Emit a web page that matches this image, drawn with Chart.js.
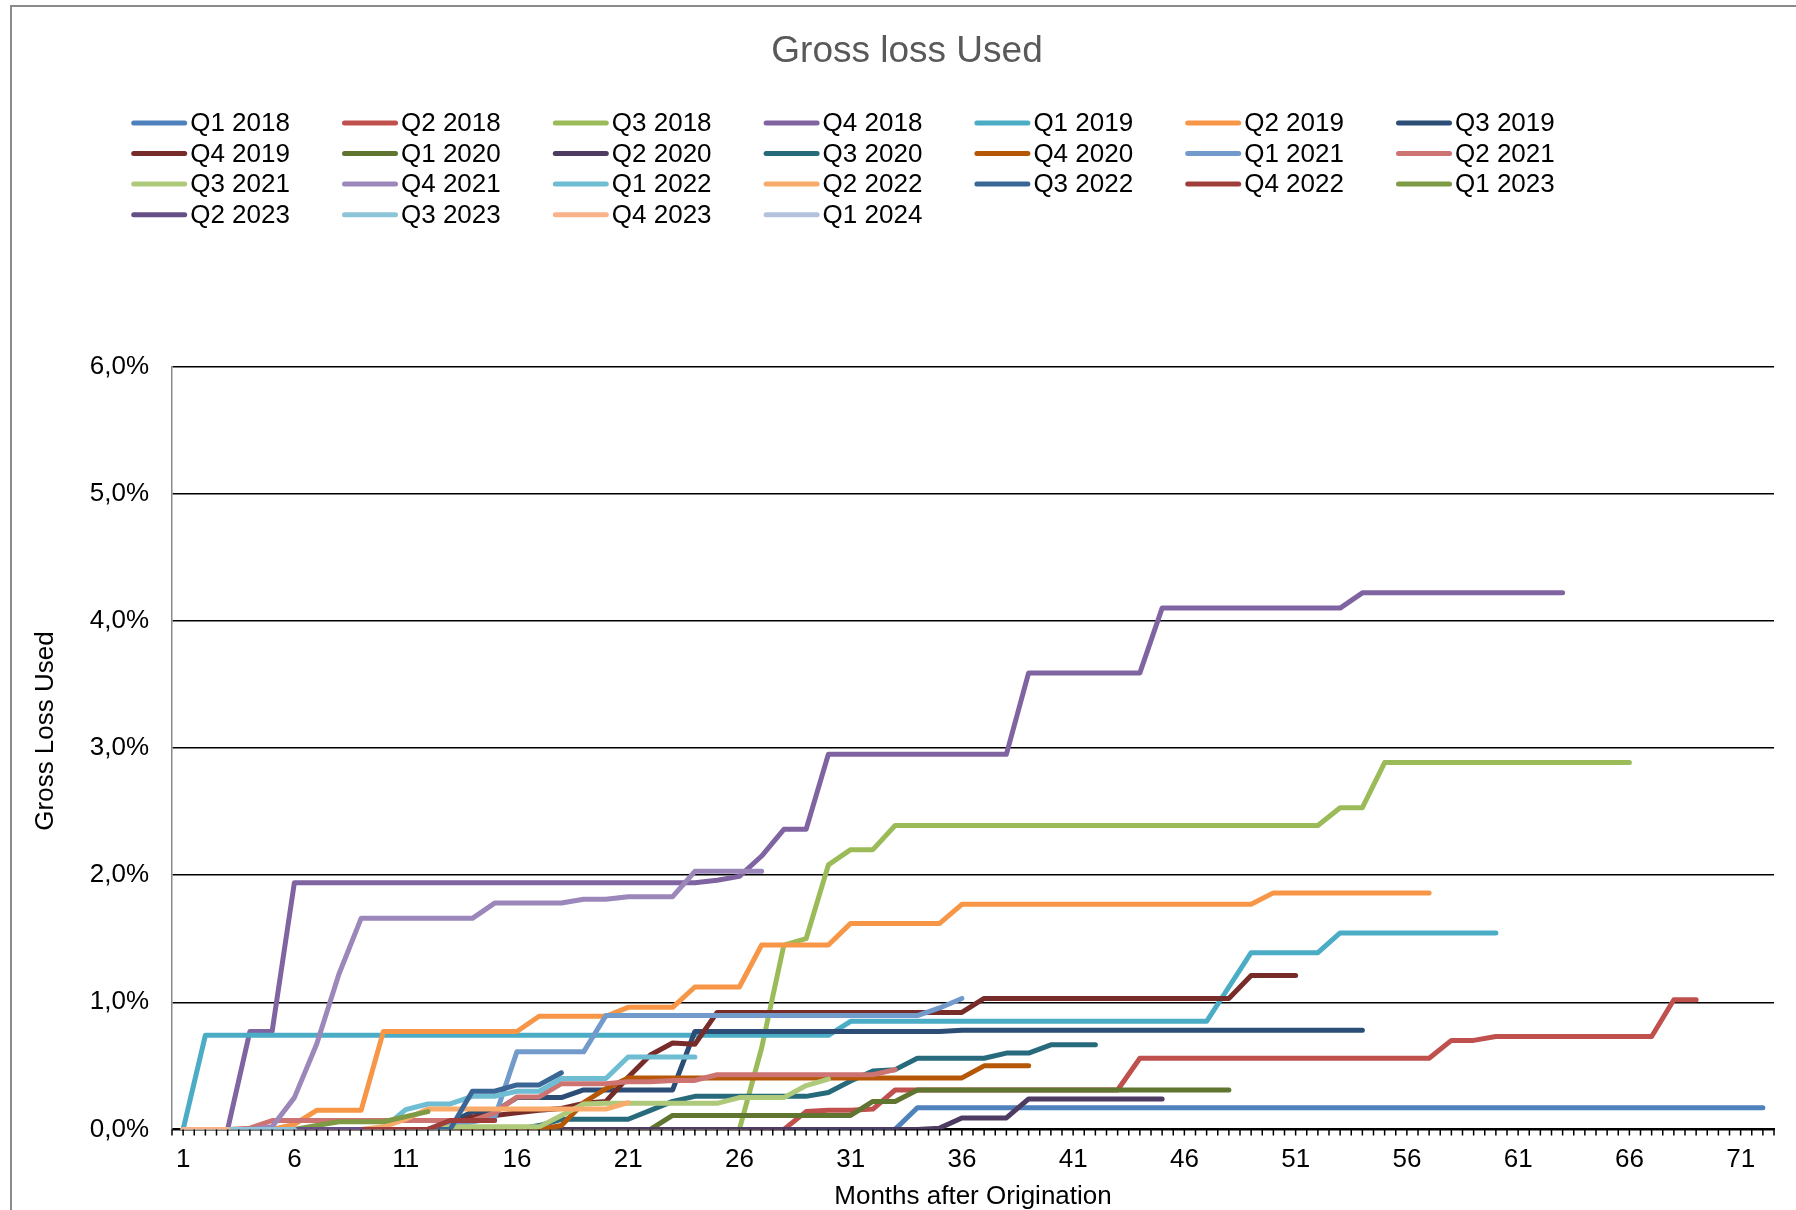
<!DOCTYPE html>
<html>
<head>
<meta charset="utf-8">
<title>Gross loss Used</title>
<script src="https://cdn.jsdelivr.net/npm/chart.js@4/dist/chart.umd.min.js"></script>
<style>
  html, body { margin: 0; padding: 0; background: #ffffff; overflow: hidden; }
  #wrap { width: 1796px; height: 1210px; }
</style>
</head>
<body>
<div id="wrap"><canvas id="c" width="1796" height="1210"></canvas></div>
<script>
// Months after origination (category axis)
const months = ['1','2','3','4','5','6','7','8','9','10','11','12','13','14','15','16','17','18','19','20',
  '21','22','23','24','25','26','27','28','29','30','31','32','33','34','35','36','37','38','39','40',
  '41','42','43','44','45','46','47','48','49','50','51','52','53','54','55','56','57','58','59','60',
  '61','62','63','64','65','66','67','68','69','70','71','72'];

// Cumulative gross loss (%) per origination quarter, by month after origination
const q1_2018 = [0,0,0,0,0,0,0,0,0,0, 0,0,0,0,0,0,0,0,0,0, 0,0,0,0,0,0,0,0,0,0,
  0,0,0,0.17,0.17,0.17,0.17,0.17,0.17,0.17, 0.17,0.17,0.17,0.17,0.17,0.17,0.17,0.17,0.17,0.17,
  0.17,0.17,0.17,0.17,0.17,0.17,0.17,0.17,0.17,0.17, 0.17,0.17,0.17,0.17,0.17,0.17,0.17,0.17,0.17,0.17, 0.17,0.17];
const q2_2018 = [0,0,0,0,0,0,0,0,0,0, 0,0,0,0,0,0,0,0,0,0, 0,0,0,0,0,0,0,0,0.14,0.15,
  0.15,0.16,0.31,0.31,0.31,0.31,0.31,0.31,0.31,0.31, 0.31,0.31,0.31,0.56,0.56,0.56,0.56,0.56,0.56,0.56,
  0.56,0.56,0.56,0.56,0.56,0.56,0.56,0.70,0.70,0.73, 0.73,0.73,0.73,0.73,0.73,0.73,0.73,1.02,1.02];
const q3_2018 = [0,0,0,0,0,0,0,0,0,0, 0,0,0,0,0,0,0,0,0,0, 0,0,0,0,0,0,0.64,1.45,1.50,2.08,
  2.20,2.20,2.39,2.39,2.39,2.39,2.39,2.39,2.39,2.39, 2.39,2.39,2.39,2.39,2.39,2.39,2.39,2.39,2.39,2.39,
  2.39,2.39,2.53,2.53,2.885,2.885,2.885,2.885,2.885,2.885, 2.885,2.885,2.885,2.885,2.885,2.885];
const q4_2018 = [0,0,0,0.77,0.77,1.94,1.94,1.94,1.94,1.94, 1.94,1.94,1.94,1.94,1.94,1.94,1.94,1.94,1.94,1.94,
  1.94,1.94,1.94,1.94,1.96,1.99,2.15,2.36,2.36,2.95, 2.95,2.95,2.95,2.95,2.95,2.95,2.95,2.95,3.59,3.59,
  3.59,3.59,3.59,3.59,4.10,4.10,4.10,4.10,4.10,4.10, 4.10,4.10,4.10,4.22,4.22,4.22,4.22,4.22,4.22,4.22, 4.22,4.22,4.22];
const q1_2019 = [0,0.74,0.74,0.74,0.74,0.74,0.74,0.74,0.74,0.74, 0.74,0.74,0.74,0.74,0.74,0.74,0.74,0.74,0.74,0.74,
  0.74,0.74,0.74,0.74,0.74,0.74,0.74,0.74,0.74,0.74, 0.85,0.85,0.85,0.85,0.85,0.85,0.85,0.85,0.85,0.85,
  0.85,0.85,0.85,0.85,0.85,0.85,0.85,1.12,1.39,1.39, 1.39,1.39,1.545,1.545,1.545,1.545,1.545,1.545,1.545,1.545];
const q2_2019 = [0,0,0,0,0,0.04,0.15,0.15,0.15,0.77, 0.77,0.77,0.77,0.77,0.77,0.77,0.89,0.89,0.89,0.89,
  0.96,0.96,0.96,1.12,1.12,1.12,1.45,1.45,1.45,1.45, 1.62,1.62,1.62,1.62,1.62,1.77,1.77,1.77,1.77,1.77,
  1.77,1.77,1.77,1.77,1.77,1.77,1.77,1.77,1.77,1.86, 1.86,1.86,1.86,1.86,1.86,1.86,1.86];
const q3_2019 = [0,0,0,0,0,0,0,0,0,0, 0,0,0.05,0.14,0.14,0.25,0.25,0.25,0.31,0.31,
  0.31,0.31,0.31,0.77,0.77,0.77,0.77,0.77,0.77,0.77, 0.77,0.77,0.77,0.77,0.77,0.78,0.78,0.78,0.78,0.78,
  0.78,0.78,0.78,0.78,0.78,0.78,0.78,0.78,0.78,0.78, 0.78,0.78,0.78,0.78];
const q4_2019 = [0,0,0,0,0,0,0,0,0,0, 0,0,0.03,0.10,0.11,0.13,0.15,0.165,0.205,0.22,
  0.41,0.585,0.68,0.67,0.92,0.92,0.92,0.92,0.92,0.92, 0.92,0.92,0.92,0.92,0.92,0.92,1.03,1.03,1.03,1.03,
  1.03,1.03,1.03,1.03,1.03,1.03,1.03,1.03,1.21,1.21, 1.21];
const q1_2020 = [0,0,0,0,0,0,0,0,0,0, 0,0,0,0,0,0,0,0,0,0, 0,0,0.11,0.11,0.11,0.11,0.11,0.11,0.11,0.11,
  0.11,0.22,0.22,0.31,0.31,0.31,0.31,0.31,0.31,0.31, 0.31,0.31,0.31,0.31,0.31,0.31,0.31,0.31];
const q2_2020 = [0,0,0,0,0,0,0,0,0,0, 0,0,0,0,0,0,0,0,0,0, 0,0,0,0,0,0,0,0,0,0,
  0,0,0,0,0.01,0.09,0.09,0.09,0.24,0.24, 0.24,0.24,0.24,0.24,0.24];
const q3_2020 = [0,0,0,0,0,0,0,0,0,0, 0,0,0,0,0,0,0.03,0.08,0.08,0.08,
  0.08,0.15,0.22,0.26,0.26,0.26,0.26,0.26,0.26,0.29, 0.38,0.46,0.47,0.56,0.56,0.56,0.56,0.60,0.60,0.665, 0.665,0.665];
const q4_2020 = [0,0,0,0,0,0,0,0,0,0, 0,0,0,0,0,0,0,0.03,0.21,0.32,
  0.405,0.405,0.405,0.405,0.405,0.405,0.405,0.405,0.405,0.405, 0.405,0.405,0.405,0.405,0.405,0.405,0.50,0.50,0.50];
const q1_2021 = [0,0,0,0,0,0,0,0,0,0, 0,0,0.03,0.06,0.09,0.61,0.61,0.61,0.61,0.895,
  0.895,0.895,0.895,0.895,0.895,0.895,0.895,0.895,0.895,0.895, 0.895,0.895,0.895,0.895,0.955,1.03];
const q2_2021 = [0,0,0,0.01,0.07,0.07,0.07,0.07,0.07,0.07, 0.07,0.07,0.07,0.07,0.13,0.255,0.255,0.36,0.36,0.36,
  0.375,0.375,0.385,0.385,0.43,0.43,0.43,0.43,0.43,0.43, 0.43,0.43,0.47];
const q3_2021 = [0,0,0,0,0,0,0,0,0,0, 0,0,0.02,0.02,0.02,0.02,0.02,0.11,0.20,0.205,
  0.205,0.205,0.205,0.205,0.205,0.25,0.25,0.25,0.345,0.395];
const q4_2021 = [0,0,0,0,0.02,0.25,0.67,1.22,1.66,1.66, 1.66,1.66,1.66,1.66,1.78,1.78,1.78,1.78,1.81,1.81,
  1.83,1.83,1.83,2.03,2.03,2.03,2.03];
const q1_2022 = [0,0,0,0,0,0,0,0,0,0.01, 0.155,0.20,0.20,0.26,0.26,0.30,0.30,0.40,0.40,0.40, 0.57,0.57,0.57,0.57];
const q2_2022 = [0,0,0,0,0,0,0,0,0,0.02, 0.08,0.16,0.16,0.16,0.16,0.16,0.16,0.16,0.16,0.16, 0.21];
const q3_2022 = [0,0,0,0,0,0,0,0,0,0, 0,0,0,0.30,0.30,0.35,0.35,0.445];
const q4_2022 = [0,0,0,0,0,0,0,0,0,0, 0,0,0.07,0.07,0.07];
const q1_2023 = [0,0,0,0,0,0,0.03,0.06,0.06,0.06, 0.10,0.14];
const q2_2023 = [0,0,0,0,0,0,0,0,0];
const q3_2023 = [0,0,0,0,0,0];
const q4_2023 = [0,0,0];
const q1_2024 = [];

const seriesNames = ['Q1 2018','Q2 2018','Q3 2018','Q4 2018','Q1 2019','Q2 2019','Q3 2019',
  'Q4 2019','Q1 2020','Q2 2020','Q3 2020','Q4 2020','Q1 2021','Q2 2021',
  'Q3 2021','Q4 2021','Q1 2022','Q2 2022','Q3 2022','Q4 2022','Q1 2023',
  'Q2 2023','Q3 2023','Q4 2023','Q1 2024'];
const seriesValues = [q1_2018,q2_2018,q3_2018,q4_2018,q1_2019,q2_2019,q3_2019,
  q4_2019,q1_2020,q2_2020,q3_2020,q4_2020,q1_2021,q2_2021,
  q3_2021,q4_2021,q1_2022,q2_2022,q3_2022,q4_2022,q1_2023,
  q2_2023,q3_2023,q4_2023,q1_2024];

// Line colours, one per quarter
const seriesColors = ['#4F81BD','#C0504D','#9BBB59','#8064A2','#4BACC6','#F79646','#2C4D75',
  '#772C2A','#5F7530','#4D3B62','#276A7C','#B65708','#729ACA','#CD7371',
  '#AFC97A','#9B87BA','#6FBDD2','#F9AB6B','#3A6696','#9E3D3A','#7E9A45',
  '#664F87','#8CC5D8','#F8B38A','#B3C3DE'];

const FONT = '"Liberation Sans", Arial, sans-serif';

// White page with the grey frame at the top and left, plus the chart title
const framePlugin = {
  id: 'frame',
  beforeDraw(chart) {
    const ctx = chart.ctx;
    ctx.save();
    ctx.fillStyle = '#ffffff';
    ctx.fillRect(0, 0, chart.width, chart.height);
    ctx.strokeStyle = '#8a8a8a';
    ctx.lineWidth = 2;
    ctx.beginPath();
    ctx.moveTo(11, chart.height);
    ctx.lineTo(11, 6);
    ctx.lineTo(chart.width, 6);
    ctx.stroke();
    ctx.font = '37px ' + FONT;
    ctx.fillStyle = '#595959';
    ctx.textAlign = 'center';
    ctx.textBaseline = 'middle';
    ctx.fillText('Gross loss Used', 907, 52);
    ctx.restore();
  }
};

// Seven-column legend grid under the title
const legendGridPlugin = {
  id: 'legendGrid',
  afterDraw(chart) {
    const ctx = chart.ctx;
    ctx.save();
    ctx.font = '26px ' + FONT;
    ctx.textBaseline = 'middle';
    ctx.textAlign = 'left';
    chart.data.datasets.forEach((ds, i) => {
      const col = i % 7, row = Math.floor(i / 7);
      const x0 = 131.7 + col * 210.8;
      const y = 123 + row * 30.55;
      ctx.strokeStyle = ds.borderColor;
      ctx.lineWidth = 5;
      ctx.lineCap = 'round';
      ctx.beginPath();
      ctx.moveTo(x0 + 2, y);
      ctx.lineTo(x0 + 53, y);
      ctx.stroke();
      ctx.fillStyle = '#000000';
      ctx.fillText(ds.label, x0 + 58.5, y + 1);
    });
    ctx.restore();
  }
};

// Small tick marks along the month axis and the vertical axis title
const axisExtrasPlugin = {
  id: 'axisExtras',
  afterDraw(chart) {
    const ctx = chart.ctx;
    const xs = chart.scales.x;
    const n = xs.ticks.length;
    const half = (xs.getPixelForValue(1) - xs.getPixelForValue(0)) / 2;
    const yb = chart.chartArea.bottom;
    ctx.save();
    ctx.strokeStyle = '#000000';
    ctx.lineWidth = 1.5;
    ctx.beginPath();
    for (let i = 0; i < n; i++) {
      const c = xs.getPixelForValue(i);
      ctx.moveTo(c - half, yb); ctx.lineTo(c - half, yb + 6);
      ctx.moveTo(c, yb); ctx.lineTo(c, yb + 6);
      if (i === n - 1) { ctx.moveTo(c + half, yb); ctx.lineTo(c + half, yb + 6); }
    }
    ctx.stroke();
    ctx.translate(46, 731);
    ctx.rotate(-Math.PI / 2);
    ctx.font = '26px ' + FONT;
    ctx.fillStyle = '#000000';
    ctx.textAlign = 'center';
    ctx.textBaseline = 'middle';
    ctx.fillText('Gross Loss Used', 0, 0);
    ctx.restore();
  }
};

const datasets = seriesNames.map((name, i) => ({
  label: name,
  data: seriesValues[i],
  borderColor: seriesColors[i],
  backgroundColor: seriesColors[i],
  borderWidth: 5,
  borderCapStyle: 'round',
  borderJoinStyle: 'round',
  pointRadius: 0,
  pointHoverRadius: 0,
  tension: 0,
  fill: false,
  order: seriesNames.length - i
}));

new Chart(document.getElementById('c'), {
  type: 'line',
  data: { labels: months, datasets },
  options: {
    responsive: false,
    animation: false,
    devicePixelRatio: 1,
    layout: { padding: { top: 366.5, right: 22, bottom: 0, left: 0 } },
    plugins: {
      legend: { display: false },
      tooltip: { enabled: false },
      title: { display: false }
    },
    scales: {
      x: {
        type: 'category',
        offset: true,
        grid: { display: true, drawOnChartArea: false, drawTicks: false },
        border: { display: true, color: '#000000', width: 2 },
        ticks: {
          autoSkip: false,
          maxRotation: 0,
          minRotation: 0,
          padding: 15,
          color: '#000000',
          font: { family: FONT, size: 26 },
          callback: function (value, index) { return index % 5 === 0 ? this.getLabelForValue(value) : ''; }
        },
        title: {
          display: true,
          text: 'Months after Origination',
          color: '#000000',
          font: { family: FONT, size: 26, lineHeight: 1.0 },
          padding: { top: 0, bottom: 0 }
        },
        afterFit(scale) { scale.height = 80.6; }
      },
      y: {
        min: 0,
        max: 6,
        grid: { color: '#000000', lineWidth: 1.5, drawTicks: false },
        border: { display: true, color: '#8a8a8a', width: 1.5 },
        ticks: {
          stepSize: 1,
          padding: 23,
          color: '#000000',
          font: { family: FONT, size: 26 },
          callback: (v) => v.toFixed(1).replace('.', ',') + '%'
        },
        afterFit(scale) { scale.width = 172; }
      }
    }
  },
  plugins: [framePlugin, legendGridPlugin, axisExtrasPlugin]
});
</script>
</body>
</html>
